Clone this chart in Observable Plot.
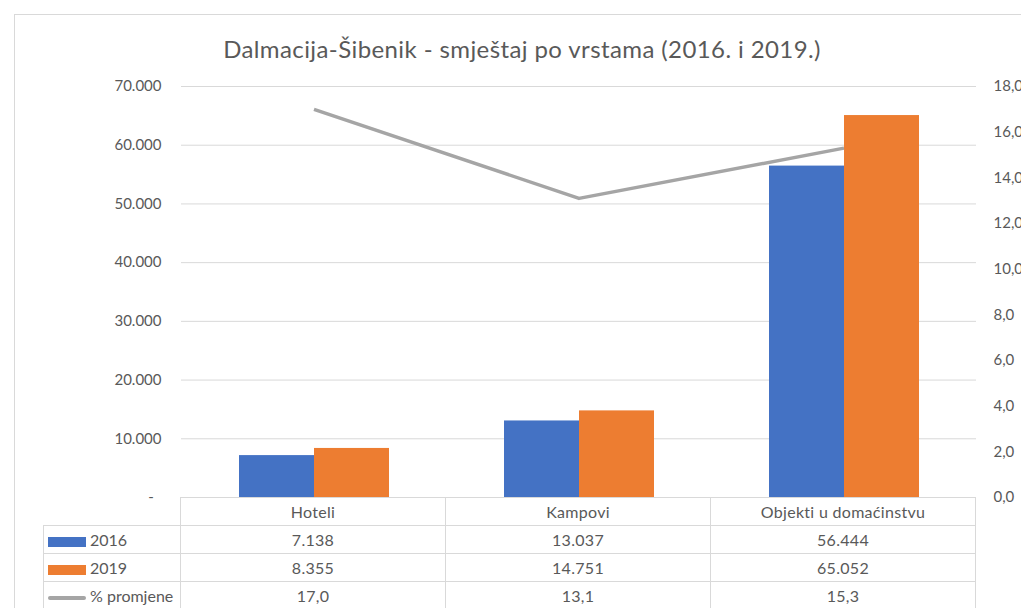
<!DOCTYPE html>
<html>
<head>
<meta charset="utf-8">
<script src="https://cdn.jsdelivr.net/npm/d3@7"></script>
<script src="https://cdn.jsdelivr.net/npm/@observablehq/plot@0.6"></script>
<style>
  html, body { margin: 0; padding: 0; background: #fff; overflow: hidden; }
  #wrap { position: relative; width: 1021px; height: 608px; font-family: Lato, "Open Sans", sans-serif; color: #595959; }
  #frame { position: absolute; left: 14px; top: 14px; width: 1100px; height: 700px; border: 1px solid #D9D9D9; box-sizing: border-box; }
  #title { position: absolute; left: 0; width: 1044px; top: 34px; text-align: center; font-size: 24px; letter-spacing: 0.4px; color: #595959; }
  .layer { position: absolute; left: 0; top: 0; }
  #tbl { position: absolute; border-collapse: collapse; font-size: 16px; letter-spacing: 0.3px; color: #595959; table-layout: fixed; }
  #tbl td { border: 1px solid #D9D9D9; text-align: center; padding: 0; height: 27px; white-space: nowrap; }
  #tbl td.lab { text-align: left; padding-left: 4px; letter-spacing: 0; overflow: hidden; }
  #tbl td.blank { border: none; }
  .key { display: inline-block; width: 38px; vertical-align: middle; margin-right: 4px; }
</style>
</head>
<body>
<div id="wrap">
  <div id="frame"></div>
  <div id="title">Dalmacija-Šibenik - smještaj po vrstama (2016. i 2019.)</div>
</div>
<script>
// ---- data ----
const categories = ["Hoteli", "Kampovi", "Objekti u domaćinstvu"];
const years = ["2016", "2019"];
const values2016 = [7138, 13037, 56444];
const values2019 = [8355, 14751, 65052];
const pctChange = [17.0, 13.1, 15.3];
const pctLabel = "% promjene";
const leftTicks = [0, 10000, 20000, 30000, 40000, 50000, 60000, 70000];
const rightTicks = [0, 2, 4, 6, 8, 10, 12, 14, 16, 18];
const yearColors = ["#4472C4", "#ED7D31"];
const lineColor = "#A5A5A5";

// ---- layout ----
const W = 1021, H = 608;
const mL = 180, mR = 44, mT = 86, mB = 111;
const textColor = "#595959";
const fontFamily = "Lato, 'Open Sans', sans-serif";

const fmtThousands = d => d === 0 ? "-\u00A0\u00A0" : d3.format(",")(d).replace(/,/g, ".");
const fmtPct = d => d.toFixed(1).replace(".", ",");

const rows = [];
categories.forEach((c, i) => {
  rows.push({category: c, year: years[0], value: values2016[i]});
  rows.push({category: c, year: years[1], value: values2019[i]});
});
const lineRows = categories.map((c, i) => ({category: c, pct: pctChange[i]}));

const wrap = document.getElementById("wrap");

// Bars + left axis
const barsPlot = Plot.plot({
  width: W, height: H,
  marginLeft: mL, marginRight: mR, marginTop: mT, marginBottom: mB,
  style: {background: "transparent", fontFamily, fontSize: "15px", color: textColor},
  fx: {domain: categories, padding: 0, axis: null, label: null},
  x: {domain: years, paddingInner: 0, paddingOuter: 0.75, axis: null},
  y: {domain: [0, 70000], label: null},
  color: {domain: years, range: yearColors},
  marks: [
    Plot.gridY(leftTicks.filter(d => d > 0), {stroke: "#D9D9D9", strokeOpacity: 1, strokeWidth: 1}),
    Plot.axisY(leftTicks, {tickSize: 0, tickPadding: 20, tickFormat: fmtThousands, label: null, fill: textColor, fontSize: 15}),
    Plot.barY(rows, {fx: "category", x: "year", y: "value", fill: "year"})
  ]
});
barsPlot.classList.add("layer");
wrap.appendChild(barsPlot);

// Line + right axis
const linePlot = Plot.plot({
  width: W, height: H,
  marginLeft: mL, marginRight: mR, marginTop: mT, marginBottom: mB,
  style: {background: "transparent", fontFamily, fontSize: "15px", color: textColor, overflow: "visible"},
  x: {type: "band", domain: categories, padding: 0, axis: null},
  y: {domain: [0, 18], label: null},
  marks: [
    Plot.axisY(rightTicks, {anchor: "right", tickSize: 0, tickPadding: 16, tickFormat: fmtPct, label: null, fill: textColor, fontSize: 15}),
    Plot.lineY(lineRows, {x: "category", y: "pct", stroke: lineColor, strokeWidth: 3.5, strokeLinejoin: "round", strokeLinecap: "butt"})
  ]
});
linePlot.classList.add("layer");
wrap.appendChild(linePlot);

// Data table
const xs = barsPlot.scale("fx");
const colW = xs.bandwidth;
const tbl = document.createElement("table");
tbl.id = "tbl";
tbl.style.left = "43px";
tbl.style.top = (H - mB) + "px";
const cg = document.createElement("colgroup");
const labW = mL - 43;
cg.innerHTML = `<col style="width:${labW}px">` + categories.map(() => `<col style="width:${colW}px">`).join("");
tbl.appendChild(cg);
tbl.style.width = (labW + colW * categories.length) + "px";

const head = document.createElement("tr");
head.innerHTML = `<td class="blank"></td>` + categories.map(c => `<td>${c}</td>`).join("");
tbl.appendChild(head);

const keyRect = c => `<span class="key" style="height:10px;background:${c}"></span>`;
const keyLine = c => `<span class="key" style="height:4px;background:${c};border-radius:2px"></span>`;
const tableRows = [
  {key: keyRect(yearColors[0]), label: years[0], vals: values2016.map(fmtThousands)},
  {key: keyRect(yearColors[1]), label: years[1], vals: values2019.map(fmtThousands)},
  {key: keyLine(lineColor), label: pctLabel, vals: pctChange.map(fmtPct)}
];
for (const r of tableRows) {
  const tr = document.createElement("tr");
  tr.innerHTML = `<td class="lab">${r.key}${r.label}</td>` + r.vals.map(v => `<td>${v}</td>`).join("");
  tbl.appendChild(tr);
}
wrap.appendChild(tbl);
</script>
</body>
</html>
